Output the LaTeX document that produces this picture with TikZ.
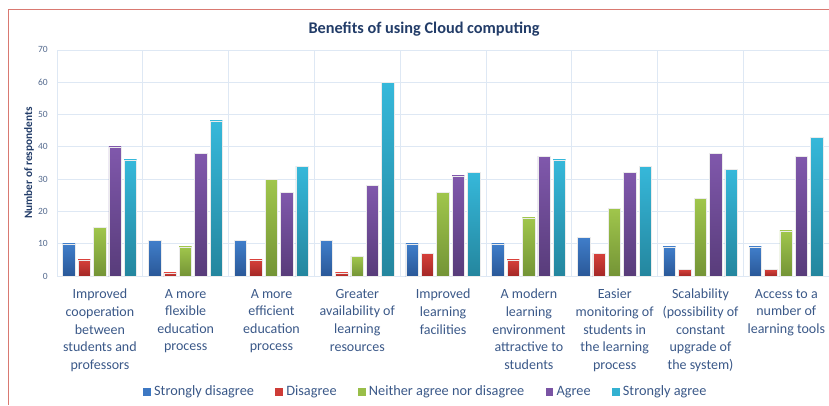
\documentclass[tikz,border=0pt]{standalone}
\usepackage{fontspec}
\setmainfont{Carlito}
\usetikzlibrary{positioning}

\definecolor{frameline}{RGB}{217,121,113}
\definecolor{gridline}{RGB}{222,232,244}
\definecolor{titleblue}{RGB}{34,60,104}
\definecolor{labelblue}{RGB}{58,88,136}
\definecolor{tickblue}{RGB}{84,106,142}

\definecolor{sdtop}{RGB}{64,126,202}   \definecolor{sdbot}{RGB}{42,88,152}
\definecolor{dtop}{RGB}{214,64,58}     \definecolor{dbot}{RGB}{164,40,38}
\definecolor{ntop}{RGB}{160,198,76}    \definecolor{nbot}{RGB}{116,148,54}
\definecolor{atop}{RGB}{128,88,172}    \definecolor{abot}{RGB}{88,60,122}
\definecolor{satop}{RGB}{54,184,218}   \definecolor{sabot}{RGB}{36,134,158}

\begin{document}
\begin{tikzpicture}[x=1pt, y=1pt,
    bar/.style={draw=black!8, line width=0.3pt},
    sdis/.style={bar, top color=sdtop, bottom color=sdbot},
    dis/.style={bar, top color=dtop, bottom color=dbot},
    neither/.style={bar, top color=ntop, bottom color=nbot},
    agr/.style={bar, top color=atop, bottom color=abot},
    sagr/.style={bar, top color=satop, bottom color=sabot},
    tick/.style={anchor=east, inner sep=0pt, text=tickblue, font=\fontsize{9.5}{11}\selectfont},
    catlabel/.style={anchor=north, inner sep=0pt, align=center, text=labelblue, font=\fontsize{14}{17.6}\selectfont},
    legsq/.style={minimum size=7.5pt, inner sep=0pt},
    legtext/.style={inner sep=0pt, text=labelblue, font=\fontsize{14.3}{16}\selectfont}]
    \useasboundingbox (0,0) rectangle (829,405);
    \draw[frameline, line width=1pt] (8.5,0) -- (8.5,395) -- (829,395);

    \node[text=titleblue, font=\bfseries\fontsize{16.3}{19}\selectfont] (title) at (424,376) {Benefits of using Cloud computing};
    \node[rotate=90, text=titleblue, font=\bfseries\fontsize{11.3}{13}\selectfont] (ytitle) at (29,242) {Number of respondents};

    \begin{scope}[shift={(57,129)}, y=3.23pt]
        \draw[gridline, line width=0.8pt] (0,0) grid[xstep=85.8, ystep=10] (772.4,70);

        \node[tick] (t0) at (-9,0) {0};
        \node[tick] (t10) at (-9,10) {10};
        \node[tick] (t20) at (-9,20) {20};
        \node[tick] (t30) at (-9,30) {30};
        \node[tick] (t40) at (-9,40) {40};
        \node[tick] (t50) at (-9,50) {50};
        \node[tick] (t60) at (-9,60) {60};
        \node[tick] (t70) at (-9,70) {70};

        % improved cooperation
        \shade[sdis] (5.6,0) rectangle (18,10);
        \shade[dis] (21,0) rectangle (33.4,5);
        \shade[neither] (36.4,0) rectangle (48.8,15);
        \shade[agr] (51.8,0) rectangle (64.2,40);
        \shade[sagr] (67.2,0) rectangle (79.6,36);

        % flexible education
        \begin{scope}[xshift=85.8pt]
        \shade[sdis] (5.6,0) rectangle (18,11);
        \shade[dis] (21,0) rectangle (33.4,1);
        \shade[neither] (36.4,0) rectangle (48.8,9);
        \shade[agr] (51.8,0) rectangle (64.2,38);
        \shade[sagr] (67.2,0) rectangle (79.6,48);
        \end{scope}

        % efficient education
        \begin{scope}[xshift=171.6pt]
        \shade[sdis] (5.6,0) rectangle (18,11);
        \shade[dis] (21,0) rectangle (33.4,5);
        \shade[neither] (36.4,0) rectangle (48.8,30);
        \shade[agr] (51.8,0) rectangle (64.2,26);
        \shade[sagr] (67.2,0) rectangle (79.6,34);
        \end{scope}

        % availability of resources
        \begin{scope}[xshift=257.4pt]
        \shade[sdis] (5.6,0) rectangle (18,11);
        \shade[dis] (21,0) rectangle (33.4,1);
        \shade[neither] (36.4,0) rectangle (48.8,6);
        \shade[agr] (51.8,0) rectangle (64.2,28);
        \shade[sagr] (67.2,0) rectangle (79.6,60);
        \end{scope}

        % learning facilities
        \begin{scope}[xshift=343.2pt]
        \shade[sdis] (5.6,0) rectangle (18,10);
        \shade[dis] (21,0) rectangle (33.4,7);
        \shade[neither] (36.4,0) rectangle (48.8,26);
        \shade[agr] (51.8,0) rectangle (64.2,31);
        \shade[sagr] (67.2,0) rectangle (79.6,32);
        \end{scope}

        % modern environment
        \begin{scope}[xshift=429pt]
        \shade[sdis] (5.6,0) rectangle (18,10);
        \shade[dis] (21,0) rectangle (33.4,5);
        \shade[neither] (36.4,0) rectangle (48.8,18);
        \shade[agr] (51.8,0) rectangle (64.2,37);
        \shade[sagr] (67.2,0) rectangle (79.6,36);
        \end{scope}

        % monitoring of students
        \begin{scope}[xshift=514.8pt]
        \shade[sdis] (5.6,0) rectangle (18,12);
        \shade[dis] (21,0) rectangle (33.4,7);
        \shade[neither] (36.4,0) rectangle (48.8,21);
        \shade[agr] (51.8,0) rectangle (64.2,32);
        \shade[sagr] (67.2,0) rectangle (79.6,34);
        \end{scope}

        % scalability
        \begin{scope}[xshift=600.6pt]
        \shade[sdis] (5.6,0) rectangle (18,9);
        \shade[dis] (21,0) rectangle (33.4,2);
        \shade[neither] (36.4,0) rectangle (48.8,24);
        \shade[agr] (51.8,0) rectangle (64.2,38);
        \shade[sagr] (67.2,0) rectangle (79.6,33);
        \end{scope}

        % learning tools
        \begin{scope}[xshift=686.4pt]
        \shade[sdis] (5.6,0) rectangle (18,9);
        \shade[dis] (21,0) rectangle (33.4,2);
        \shade[neither] (36.4,0) rectangle (48.8,14);
        \shade[agr] (51.8,0) rectangle (64.2,37);
        \shade[sagr] (67.2,0) rectangle (79.6,43);
        \end{scope}
    \end{scope}

    \node[catlabel] (cat1) at (99.9,116) {Improved\\cooperation\\between\\students and\\professors};
    \node[catlabel] (cat2) at (185.7,116) {A more\\flexible\\education\\process};
    \node[catlabel] (cat3) at (271.5,116) {A more\\efficient\\education\\process};
    \node[catlabel] (cat4) at (357.3,116) {Greater\\availability of\\learning\\resources};
    \node[catlabel] (cat5) at (443.1,116) {Improved\\learning\\facilities};
    \node[catlabel] (cat6) at (528.9,116) {A modern\\learning\\environment\\attractive to\\students};
    \node[catlabel] (cat7) at (614.7,116) {Easier\\monitoring of\\students in\\the learning\\process};
    \node[catlabel] (cat8) at (700.5,116) {Scalability\\(possibility of\\constant\\upgrade of\\the system)};
    \node[catlabel] (cat9) at (786.3,116) {Access to a\\number of\\learning tools};

    \node[legsq, fill=sdtop!85!sdbot] (sq1) at (147,13) {};
    \node[legtext, right=3pt of sq1] (lg1) {Strongly disagree};
    \node[legsq, fill=dtop!85!dbot, right=21pt of lg1] (sq2) {};
    \node[legtext, right=3pt of sq2] (lg2) {Disagree};
    \node[legsq, fill=ntop!85!nbot, right=21pt of lg2] (sq3) {};
    \node[legtext, right=3pt of sq3] (lg3) {Neither agree nor disagree};
    \node[legsq, fill=atop!85!abot, right=21pt of lg3] (sq4) {};
    \node[legtext, right=3pt of sq4] (lg4) {Agree};
    \node[legsq, fill=satop!85!sabot, right=21pt of lg4] (sq5) {};
    \node[legtext, right=3pt of sq5] (lg5) {Strongly agree};
\end{tikzpicture}
\end{document}
